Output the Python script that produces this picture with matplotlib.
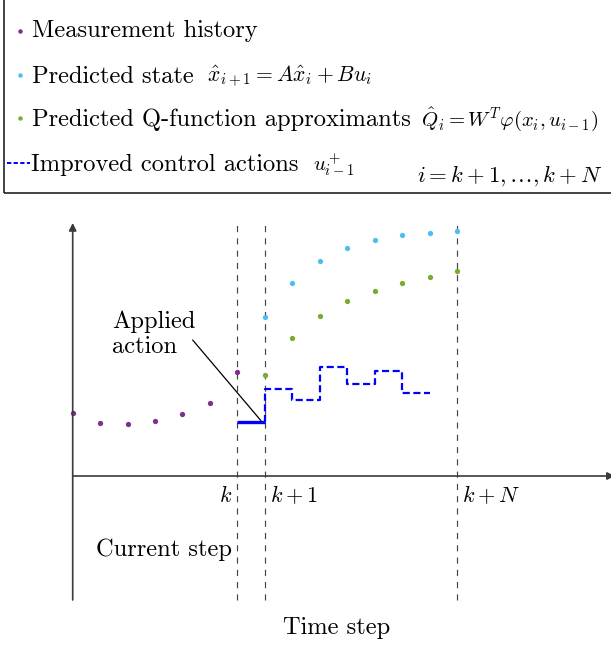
#!/usr/bin/env python3
"""
Schematic of the receding-horizon Q-learning prediction scheme
"""

import matplotlib
matplotlib.use('Agg')
import matplotlib.pyplot as plt
from matplotlib.lines import Line2D
from matplotlib.patches import Rectangle

plt.rcParams.update({
    'font.family': 'cmr10',
    'mathtext.fontset': 'cm',
    'axes.formatter.use_mathtext': True,
    'font.size': 17.6,
})

# ---- data (schematic values) ----
k = 6          # current step
N = 8          # horizon length
meas_steps = list(range(0, k + 1))
meas_history = [6.3, 5.3, 5.2, 5.5, 6.2, 7.3, 10.4]
pred_steps = list(range(k + 1, k + N + 1))
pred_state = [15.9, 19.3, 21.5, 22.8, 23.6, 24.1, 24.3, 24.5]
pred_q = [10.1, 13.8, 16.0, 17.5, 18.5, 19.3, 19.9, 20.5]
u_applied = 5.4
u_improved = [8.7, 7.6, 10.9, 9.2, 10.5, 8.3]

# MATLAB default-ish colours
c_meas = '#7E2F8E'
c_state = '#4DBEEE'
c_q = '#77AC30'
c_u = '#0000FF'
c_axis = '#3a3a3a'

W, H = 611, 646
fig = plt.figure(figsize=(W / 100, H / 100), dpi=100)
ax = fig.add_axes([0, 0, 1, 1])
ax.set_xlim(-2.648, 19.61)
ax.set_ylim(-17.0, 47.6)
ax.axis('off')


def fx(px):
    return px / W


def fy(py):
    return 1 - py / H


# axes with arrows
y_bot, y_top = -12.4, 25.3
ax.annotate('', xy=(0, y_top), xytext=(0, y_bot),
            arrowprops=dict(arrowstyle='-|>', color=c_axis, lw=1.2,
                            shrinkA=0, shrinkB=0, mutation_scale=11))
ax.annotate('', xy=(19.75, 0), xytext=(0, 0),
            arrowprops=dict(arrowstyle='-|>', color=c_axis, lw=1.2,
                            shrinkA=0, shrinkB=0, mutation_scale=11),
            annotation_clip=False)

# dashed step markers
for s in [k, k + 1, k + N]:
    ax.plot([s, s], [y_bot, y_top], color='#444444', lw=0.85,
            linestyle=(0, (5.2, 5.2)))

# points
ax.plot(meas_steps, meas_history, 'o', color=c_meas, ms=3.8, mec='none')
ax.plot(pred_steps, pred_state, 'o', color=c_state, ms=3.8, mec='none')
ax.plot(pred_steps, pred_q, 'o', color=c_q, ms=3.8, mec='none')

# control actions
ax.plot([k, k + 1], [u_applied, u_applied], color=c_u, lw=2.4,
        solid_capstyle='butt')
xs = [k + 1] + [k + 1 + i for i in range(len(u_improved))] + [k + len(u_improved) + 1]
ys = [u_applied] + u_improved + [u_improved[-1]]
ax.plot(xs, ys, color=c_u, lw=1.6, drawstyle='steps-post',
        linestyle=(0, (3.2, 1.6)))

# applied action label
ax.text(1.45, 16.5, 'Applied\naction', ha='left', va='top',
        fontsize=17.6, linespacing=1.15)
ax.annotate('', xy=(6.86, 5.53), xytext=(4.37, 13.6),
            arrowprops=dict(arrowstyle='-', color='black', lw=0.9,
                            shrinkA=0, shrinkB=0))

# step labels
ax.text(5.8, -1.9, '$k$', ha='right', va='center', fontsize=16)
ax.text(7.19, -1.9, '$k+1$', ha='left', va='center', fontsize=16)
ax.text(14.17, -1.9, '$k+N$', ha='left', va='center', fontsize=16)
ax.text(5.79, -7.4, 'Current step', ha='right', va='center')
ax.text(9.61, -15.2, 'Time step', ha='center', va='center')

# legend box (runs off the top and right edge)
fig.patches.append(Rectangle((fx(4), fy(193)), 1.1, 1.0, transform=fig.transFigure,
                             fill=False, edgecolor='#222222', lw=1.2))

rows = [
    (c_meas, 'Measurement history', None, 0, 0, 31, 37),
    (c_state, 'Predicted state', r'$\hat{x}_{i+1} = A\hat{x}_i + Bu_i$', 207, 15.6, 75, 83),
    (c_q, 'Predicted Q-function approximants',
     r'$\hat{Q}_i = W^T\varphi(x_i, u_{i-1})$', 421, 14.9, 118, 126),
]
for color, label, math, px_math, fs_math, py_dot, py_base in rows:
    fig.lines.append(Line2D([fx(20)], [fy(py_dot)], marker='o', ms=3.2, color=color,
                            mec='none', transform=fig.transFigure))
    fig.text(fx(31.7), fy(py_base), label, ha='left', va='baseline')
    if math:
        fig.text(fx(px_math), fy(py_base), math, ha='left', va='baseline',
                 fontsize=fs_math)

fig.lines.append(Line2D([fx(7), fx(30)], [fy(163), fy(163)], color=c_u, lw=1.4,
                        linestyle=(0, (2.2, 1.2)), transform=fig.transFigure))
fig.text(fx(31), fy(171), 'Improved control actions', ha='left', va='baseline')
fig.text(fx(313), fy(171), r'$u^+_{i-1}$', ha='left', va='baseline', fontsize=15)
fig.text(fx(417), fy(182), r'$i = k+1,\ldots,k+N$', ha='left', va='baseline',
         fontsize=16.4)

fig.savefig('out.png', dpi=100)
